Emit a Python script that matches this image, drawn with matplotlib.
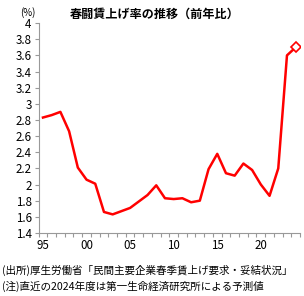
import matplotlib.pyplot as plt
import numpy as np

plt.rcParams['font.family'] = ['Noto Sans CJK JP', 'DejaVu Sans']

years = list(range(1995, 2025))
rates = [2.83, 2.86, 2.90, 2.66, 2.21, 2.06, 2.01, 1.66, 1.63, 1.67,
         1.71, 1.79, 1.87, 1.99, 1.83, 1.82, 1.83, 1.78, 1.80, 2.19,
         2.38, 2.14, 2.11, 2.26, 2.18, 2.00, 1.86, 2.20, 3.60, 3.70]
label_years = [1995, 2000, 2005, 2010, 2015, 2020]
label_text = ['95', '00', '05', '10', '15', '20']
y_ticks = [1.4, 1.6, 1.8, 2, 2.2, 2.4, 2.6, 2.8, 3, 3.2, 3.4, 3.6, 3.8, 4]

fig = plt.figure(figsize=(3.04, 2.96), dpi=100)
ax = fig.add_axes([0.127, 0.213, 0.860, 0.709])

ax.plot(years, rates, color='#ff0000', lw=1.8, zorder=3)
ax.plot(years[-1], rates[-1], marker='D', ms=5, mfc='white', mec='#ff0000',
        mew=1.2, zorder=4)

ax.set_xlim(1994.5, 2024.5)
ax.set_ylim(1.4, 4)
ax.set_yticks(y_ticks)
ax.set_yticklabels([f'{v:g}' for v in y_ticks], fontsize=8.3)
ax.set_xticks(np.arange(1994.5, 2025, 1))
ax.set_xticklabels([])
ax.set_xticks(label_years, minor=True)
ax.set_xticklabels(label_text, minor=True, fontsize=8.3)
ax.tick_params(axis='x', which='major', length=3, color='#999999')
ax.tick_params(axis='x', which='minor', length=0, pad=4)
ax.tick_params(axis='y', length=3, color='#999999', pad=2)

for s in ['top', 'right']:
    ax.spines[s].set_visible(False)
for s in ['left', 'bottom']:
    ax.spines[s].set_color('#999999')
    ax.spines[s].set_linewidth(0.8)

fig.text(0.093, 0.975, '(%)', fontsize=7, ha='center', va='top')
fig.text(0.51, 0.975, '春闘賃上げ率の推移（前年比）', fontsize=8.7,
         ha='center', va='top', fontweight='bold')
fig.text(0.005, 0.085, '(出所)厚生労働省「民間主要企業春季賃上げ要求・妥結状況」',
         fontsize=7.6, ha='left', va='center')
fig.text(0.005, 0.032, '(注)直近の2024年度は第一生命経済研究所による予測値',
         fontsize=7.6, ha='left', va='center')

fig.savefig('out.png', dpi=100)
